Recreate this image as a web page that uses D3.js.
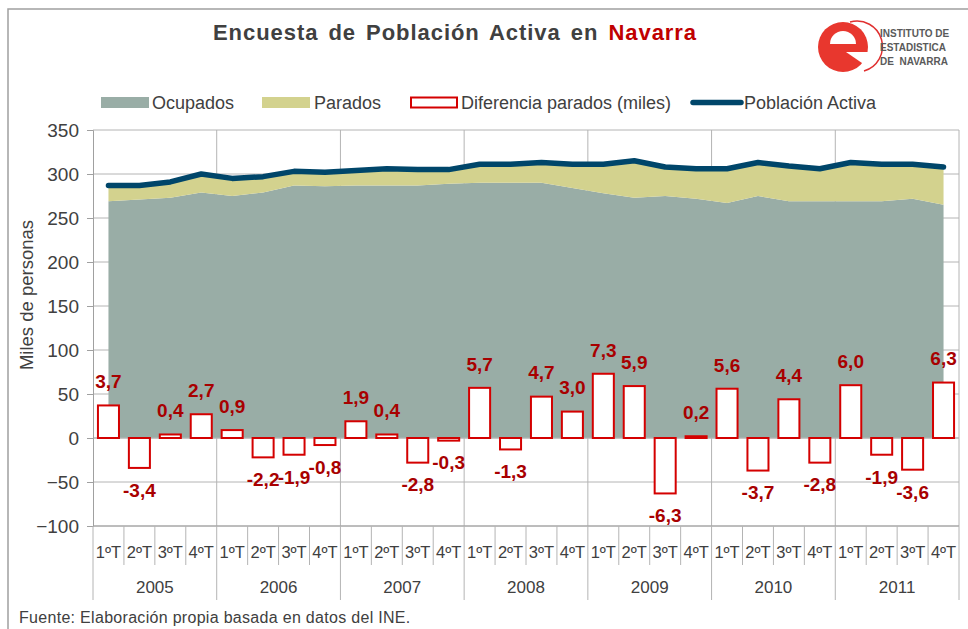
<!DOCTYPE html>
<html><head><meta charset="utf-8">
<script src="https://cdn.jsdelivr.net/npm/d3@7"></script>
<style>
html,body{margin:0;padding:0;background:#fff;}
svg{display:block;font-family:"Liberation Sans",Arial,sans-serif;}
</style></head>
<body>
<svg id="chart" width="968" height="629"></svg>
<script>
const years = ["2005","2006","2007","2008","2009","2010","2011"];
const quarters = ["1ºT","2ºT","3ºT","4ºT"];
const ocupados = [269,271,273,279, 275,279,287,286, 287,287,287,289, 290,290,290,284, 278,273,275,272, 267,275,269,269, 269,269,272,265];
const parados  = [18,16,18,21, 20,18,16,16, 17,19,18,16, 21,21,23,27, 33,42,33,34, 39,38,40,37, 44,42,39,43];
const activa   = [287,287,291,300, 295,297,303,302, 304,306,305,305, 311,311,313,311, 311,315,308,306, 306,313,309,306, 313,311,311,308];
const diferencia = [3.7,-3.4,0.4,2.7, 0.9,-2.2,-1.9,-0.8, 1.9,0.4,-2.8,-0.3, 5.7,-1.3,4.7,3.0, 7.3,5.9,-6.3,0.2, 5.6,-3.7,4.4,-2.8, 6.0,-1.9,-3.6,6.3];
const yTicks = [-100,-50,0,50,100,150,200,250,300,350];

const svg = d3.select("#chart");
const L = 93, R = 959, T = 130, B = 526;
const cats = [];
years.forEach(y => quarters.forEach(q => cats.push(y + "-" + q)));

const x = d3.scaleBand().domain(cats).range([L, R]).padding(0);
const xYear = d3.scaleBand().domain(years).range([L, R]).padding(0);
const y = d3.scaleLinear().domain([-100, 350]).range([B, T]);
const cx = i => x(cats[i]) + x.bandwidth() / 2;

// outer border
svg.append("rect").attr("x", 8).attr("y", 9).attr("width", 980).attr("height", 640)
  .attr("fill", "none").attr("stroke", "#a0a0a0").attr("stroke-width", 1.5);

// gridlines
const grid = svg.append("g");
grid.selectAll("line.h").data(yTicks).join("line")
  .attr("x1", L).attr("x2", R).attr("y1", d => y(d)).attr("y2", d => y(d))
  .attr("stroke", "#b4b4b4").attr("stroke-width", 1);
grid.selectAll("line.v").data(years.slice(1).concat(["end"])).join("line")
  .attr("x1", (d, i) => i < years.length - 1 ? xYear(d) : R)
  .attr("x2", (d, i) => i < years.length - 1 ? xYear(d) : R)
  .attr("y1", T).attr("y2", B).attr("stroke", "#b4b4b4").attr("stroke-width", 1);

// stacked areas
const stackData = cats.map((c, i) => ({ i, ocupados: ocupados[i], parados: parados[i] }));
const series = d3.stack().keys(["ocupados", "parados"])(stackData);
const colors = { ocupados: "#99ada6", parados: "#d3d28e" };
const area = d3.area().x(d => cx(d.data.i)).y0(d => y(d[0])).y1(d => y(d[1]));
svg.append("g").selectAll("path").data(series).join("path")
  .attr("d", area).attr("fill", d => colors[d.key]);

// zero line
svg.append("line").attr("x1", L).attr("x2", R).attr("y1", y(0)).attr("y2", y(0))
  .attr("stroke", "#b4b4b4").attr("stroke-width", 1);

// bars (difference in thousands, drawn x10)
const bw = x.bandwidth() * 0.68;
svg.append("g").selectAll("rect").data(diferencia).join("rect")
  .attr("x", (d, i) => cx(i) - bw / 2)
  .attr("y", d => y(Math.max(0, d * 10)))
  .attr("width", bw)
  .attr("height", d => Math.abs(y(d * 10) - y(0)))
  .attr("fill", "#fff").attr("stroke", "#d40000").attr("stroke-width", 2);

// line
const line = d3.line().x((d, i) => cx(i)).y(d => y(d));
svg.append("path").datum(activa).attr("d", line).attr("fill", "none")
  .attr("stroke", "#00466a").attr("stroke-width", 5.5)
  .attr("stroke-linejoin", "round").attr("stroke-linecap", "round");

// bar labels
const fmt = v => d3.format(".1f")(v).replace(".", ",").replace("−", "-");
svg.append("g").selectAll("text").data(diferencia).join("text")
  .attr("x", (d, i) => cx(i))
  .attr("y", d => d >= 0 ? y(d * 10) - 24 : y(d * 10) + 22)
  .attr("dy", "0.36em").attr("text-anchor", "middle")
  .attr("font-size", 19).attr("font-weight", "bold").attr("fill", "#a80000")
  .text(d => fmt(d));

// y axis
const yAxis = svg.append("g").attr("transform", `translate(${L},0)`)
  .call(d3.axisLeft(y).tickValues(yTicks).tickSize(6).tickPadding(8));
yAxis.select(".domain").attr("stroke", "#a0a0a0");
yAxis.selectAll(".tick line").attr("stroke", "#a0a0a0");
yAxis.selectAll(".tick text").attr("font-size", 19).attr("fill", "#404040")
  .attr("font-family", "Liberation Sans, Arial, sans-serif");

// x axis (bottom)
svg.append("line").attr("x1", L).attr("x2", R).attr("y1", B).attr("y2", B)
  .attr("stroke", "#a0a0a0");
const xq = svg.append("g");
xq.selectAll("text").data(cats).join("text")
  .attr("x", (d, i) => cx(i)).attr("y", 552).attr("dy", "0.36em")
  .attr("text-anchor", "middle").attr("font-size", 16.5).attr("fill", "#404040")
  .text(d => d.split("-")[1]);
xq.selectAll("line").data(cats).join("line")
  .attr("x1", d => x(d)).attr("x2", d => x(d))
  .attr("y1", B).attr("y2", (d, i) => i % 4 === 0 ? 600 : 565)
  .attr("stroke", "#b4b4b4");
svg.append("line").attr("x1", R).attr("x2", R).attr("y1", B).attr("y2", 600).attr("stroke", "#b4b4b4");
svg.append("g").selectAll("text").data(years).join("text")
  .attr("x", d => xYear(d) + xYear.bandwidth() / 2).attr("y", 587).attr("dy", "0.36em")
  .attr("text-anchor", "middle").attr("font-size", 17).attr("fill", "#404040")
  .text(d => d);

// y label
svg.append("text").attr("transform", "translate(26,295) rotate(-90)")
  .attr("dy", "0.36em").attr("text-anchor", "middle").attr("font-size", 18.5)
  .attr("fill", "#404040").text("Miles de personas");

// title
const title = svg.append("text").attr("x", 455).attr("y", 40).attr("text-anchor", "middle")
  .attr("font-size", 22).attr("font-weight", "bold").attr("fill", "#404040")
  .attr("word-spacing", 3).attr("letter-spacing", 0.95);
title.append("tspan").text("Encuesta de Población Activa en ");
title.append("tspan").attr("fill", "#c00000").text("Navarra");

// logo (graphic "e" mark)
const logo = svg.append("g");
logo.append("path").attr("d", "M850,22 A25,25 0 0 1 864,71").attr("fill", "none")
  .attr("stroke", "#e03030").attr("stroke-width", 1.5);
logo.append("ellipse").attr("cx", 843).attr("cy", 47).attr("rx", 25).attr("ry", 25).attr("fill", "#e8372e");
logo.append("path").attr("d", "M830,44 A13,13 0 0 1 856,44 Z").attr("fill", "#fff");
logo.append("path").attr("d", "M846,52 L870,52 L870,63 L862,63 Z").attr("fill", "#fff");
["INSTITUTO DE", "ESTADISTICA", "DE  NAVARRA"].forEach((t, i) => {
  logo.append("text").attr("x", 880).attr("y", 37 + i * 14).attr("font-size", 10)
    .attr("font-weight", "bold").attr("fill", "#5a5a5a").attr("xml:space", "preserve").text(t);
});

// legend
const lg = svg.append("g").attr("font-size", 18).attr("fill", "#404040");
lg.append("rect").attr("x", 101).attr("y", 97).attr("width", 48).attr("height", 11).attr("fill", colors.ocupados);
lg.append("text").attr("x", 152).attr("y", 102.5).attr("dy", "0.36em").text("Ocupados");
lg.append("rect").attr("x", 262).attr("y", 97).attr("width", 48).attr("height", 11).attr("fill", colors.parados);
lg.append("text").attr("x", 314).attr("y", 102.5).attr("dy", "0.36em").text("Parados");
lg.append("rect").attr("x", 411).attr("y", 97.5).attr("width", 46).attr("height", 10).attr("fill", "#fff")
  .attr("stroke", "#d40000").attr("stroke-width", 2);
lg.append("text").attr("x", 461).attr("y", 102.5).attr("dy", "0.36em").text("Diferencia parados (miles)");
lg.append("line").attr("x1", 693).attr("x2", 741).attr("y1", 102.5).attr("y2", 102.5)
  .attr("stroke", "#00466a").attr("stroke-width", 5.5).attr("stroke-linecap", "round");
lg.append("text").attr("x", 744).attr("y", 102.5).attr("dy", "0.36em").text("Población Activa");

// footer
svg.append("text").attr("x", 19).attr("y", 617).attr("dy", "0.36em").attr("font-size", 16)
  .attr("fill", "#404040").attr("letter-spacing", 0.3).text("Fuente: Elaboración propia basada en datos del INE.");
</script>
</body></html>
